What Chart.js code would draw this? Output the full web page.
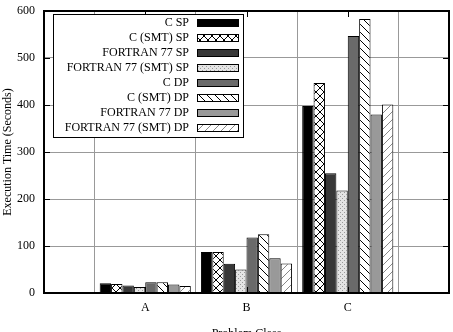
<!DOCTYPE html>
<html><head><meta charset="utf-8">
<script src="https://cdn.jsdelivr.net/npm/chart.js@4/dist/chart.umd.min.js"></script>
<style>html,body{margin:0;padding:0;background:#fff}#w{width:453px;height:332px}</style>
</head><body><div id="w"><canvas id="c" width="453" height="332"></canvas></div>
<script>
const categories = ['A', 'B', 'C'];
const seriesNames = ['C SP', 'C (SMT) SP', 'FORTRAN 77 SP', 'FORTRAN 77 (SMT) SP', 'C DP', 'C (SMT) DP', 'FORTRAN 77 DP', 'FORTRAN 77 (SMT) DP'];
const cSP        = [21, 87, 398];
const cSmtSP     = [19, 87, 447];
const f77SP      = [16, 62, 255];
const f77SmtSP   = [13, 50, 218];
const cDP        = [23, 118, 547];
const cSmtDP     = [23, 125, 583];
const f77DP      = [18, 74, 380];
const f77SmtDP   = [15, 63, 401];
const yTicks = [0, 100, 200, 300, 400, 500, 600];

const ctx0 = document.getElementById('c').getContext('2d');
function makePattern(size, draw) {
  const c = document.createElement('canvas'); c.width = size; c.height = size;
  const g = c.getContext('2d'); draw(g, size);
  return ctx0.createPattern(c, 'repeat');
}
const crossPat = makePattern(8, (g, s) => {
  g.fillStyle = '#fff'; g.fillRect(0, 0, s, s);
  g.strokeStyle = '#000'; g.lineWidth = 1;
  g.beginPath(); g.moveTo(-2, -2); g.lineTo(s + 2, s + 2); g.moveTo(s + 2, -2); g.lineTo(-2, s + 2); g.stroke();
});
const dotPat = makePattern(4, (g, s) => {
  g.fillStyle = '#e4e4e4'; g.fillRect(0, 0, s, s);
  g.fillStyle = '#9a9a9a'; g.fillRect(0, 0, 1, 1); g.fillRect(2, 2, 1, 1);
});
function diagPat(color, back) {
  return makePattern(8, (g, s) => {
    g.fillStyle = '#fff'; g.fillRect(0, 0, s, s);
    g.strokeStyle = color; g.lineWidth = 1; g.beginPath();
    if (back) { g.moveTo(-2, -2); g.lineTo(s + 2, s + 2); g.moveTo(s - 2, -2); g.lineTo(s + 2, 2); g.moveTo(-2, s - 2); g.lineTo(2, s + 2); }
    else { g.moveTo(-2, s + 2); g.lineTo(s + 2, -2); g.moveTo(-2, 2); g.lineTo(2, -2); g.moveTo(s - 2, s + 2); g.lineTo(s + 2, s - 2); }
    g.stroke();
  });
}
const backPat = diagPat('#000', true);
const fwdPat = diagPat('#888', false);

const seriesValues = [cSP, cSmtSP, f77SP, f77SmtSP, cDP, cSmtDP, f77DP, f77SmtDP];
const fills = ['#000000', crossPat, '#383838', dotPat, '#6a6a6a', backPat, '#999999', fwdPat];

const labels = [''].concat(categories, ['']);
const datasets = seriesNames.map((n, i) => ({
  label: n,
  data: [null].concat(seriesValues[i], [null]),
  backgroundColor: fills[i],
  borderColor: '#000',
  borderWidth: 1,
  categoryPercentage: 0.9,
  barPercentage: 1.0
}));

const FONT = 'Liberation Serif';
const framePlugin = {
  id: 'frame',
  afterDatasetsDraw(chart) {
    const {ctx, chartArea: a, scales: {x, y}} = chart;
    ctx.save();
    ctx.strokeStyle = '#000'; ctx.lineWidth = 1;
    ctx.beginPath();
    yTicks.forEach(v => {
      const py = Math.round(y.getPixelForValue(v)) + 0.5;
      ctx.moveTo(a.left, py); ctx.lineTo(a.left + 6, py);
      ctx.moveTo(a.right, py); ctx.lineTo(a.right - 6, py);
    });
    categories.forEach((c, i) => {
      const px = Math.round(x.getPixelForValue(i + 1)) + 0.5;
      ctx.moveTo(px, a.bottom); ctx.lineTo(px, a.bottom - 6);
      ctx.moveTo(px, a.top); ctx.lineTo(px, a.top + 6);
    });
    ctx.stroke();
    ctx.lineWidth = 2;
    ctx.strokeRect(a.left, a.top, a.right - a.left, a.bottom - a.top);
    // legend box
    const lx = 53, ly = 14, lw = 190, lh = 123;
    ctx.fillStyle = '#fff'; ctx.fillRect(lx, ly, lw, lh);
    ctx.lineWidth = 1; ctx.strokeStyle = '#000';
    ctx.strokeRect(lx + 0.5, ly + 0.5, lw, lh);
    ctx.font = '12px "' + FONT + '"';
    ctx.textAlign = 'right'; ctx.textBaseline = 'middle';
    chart.data.datasets.forEach((d, i) => {
      const cy = 22.7 + i * 15;
      ctx.fillStyle = '#000';
      ctx.fillText(d.label, 189, cy + 0.5);
      const bx = 197.5, by = Math.round(cy - 3.5) + 0.5;
      ctx.fillStyle = d.backgroundColor; ctx.fillRect(bx, by, 41, 7);
      ctx.strokeStyle = '#000'; ctx.strokeRect(bx, by, 41, 7);
    });
    ctx.restore();
  }
};

new Chart(ctx0, {
  type: 'bar',
  data: { labels, datasets },
  plugins: [framePlugin],
  options: {
    responsive: false, animation: false,
    layout: { padding: { top: 11, right: 4, left: 0, bottom: 0 } },
    plugins: { legend: { display: false }, tooltip: { enabled: false } },
    scales: {
      x: {
        offset: false,
        afterFit(s) { s.height = 39; s.paddingLeft = 0; s.paddingRight = 0; },
        grid: { color: '#999', borderDash: [1, 2], drawTicks: false, lineWidth: 1 },
        border: { display: false },
        ticks: { color: '#000', font: { family: FONT, size: 12 }, padding: 8, maxRotation: 0, autoSkip: false },
        title: { display: true, text: 'Problem Class', color: '#000', font: { family: FONT, size: 12 }, padding: { top: 0, bottom: -9 } }
      },
      y: {
        min: 0, max: 600,
        afterFit(s) { s.width = 44; s.paddingTop = 0; s.paddingBottom = 0; },
        afterBuildTicks(s) { s.ticks = yTicks.map(v => ({ value: v })); },
        grid: { color: '#999', borderDash: [1, 2], drawTicks: false, lineWidth: 1 },
        border: { display: false },
        ticks: { color: '#000', font: { family: FONT, size: 12 }, padding: 9 },
        title: { display: true, text: 'Execution Time (Seconds)', color: '#000', font: { family: FONT, size: 12 }, padding: { top: 1, bottom: 0 } }
      }
    }
  }
});
</script></body></html>
